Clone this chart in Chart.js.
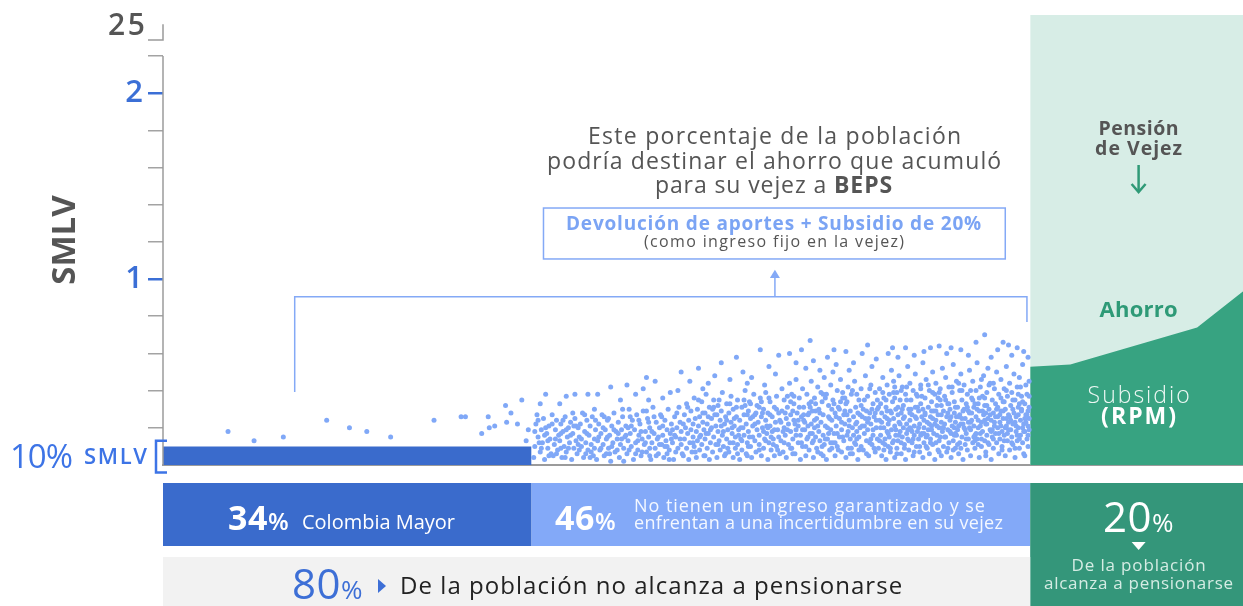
<!DOCTYPE html>
<html><head><meta charset="utf-8">
<script src="https://cdn.jsdelivr.net/npm/chart.js@4"></script>
<style>html,body{margin:0;padding:0;background:#fff;overflow:hidden;width:1243px;height:606px}#wrap{width:1247px;height:606px}canvas{display:block}</style>
</head><body><div id="wrap"><canvas id="c" width="1247" height="606"></canvas></div>
<script>
// ---------- DATA ----------
const yTickValues = [0.2,0.4,0.6,0.8,1,1.2,1.4,1.6,1.8,2,2.2];
const yTickLabels = {1:'1', 2:'2'};
const yBreakLabel = '25';
const yMin = 0, yMax = 2.42;
const xMin = 0, xMax = 100;            // % of population

const shares = [34, 46, 20];           // Colombia Mayor, no garantizado, pensionados
const shareNoPension = 80;

const colMayorX = [0, 34];
const colMayorY = [0.1, 0.1];           // 10% SMLV
const ahorroX = [80, 100];
const ahorroY = [2.42, 2.42];
const subsidioX = [80, 83.7, 95.4, 100];
const subsidioY = [0.528, 0.541, 0.740, 0.95];

const dots0to34 = [[6.0,.18],[8.4,.13],[11.1,.15],[15.1,.24],[17.2,.20],[18.8,.18],[21.0,.15],[25.0,.24],[27.5,.26],[27.9,.26],[29.4,.17],[30.0,.26],[30.1,.20],[30.6,.21],[31.6,.32],[31.7,.23],[32.1,.28],[32.7,.22],[33.1,.35],[33.5,.13],[33.7,.19]];

const dots34to48 = [[34.2,.04],[34.3,.10],[34.4,.22],[34.5,.27],[34.6,.15],[34.8,.07],[34.9,.19],[35.0,.12],[35.1,.25],[35.2,.03],[35.4,.17],[35.5,.09],[35.6,.21],[35.7,.14],[35.9,.27],[36.0,.05],[36.1,.11],[36.2,.19],[36.3,.24],[36.4,.08],[36.5,.16],[36.6,.13],[36.7,.22],[36.8,.04],[36.9,.18],[37.0,.10],[37.1,.26],[37.2,.07],[37.3,.15],[37.4,.20],[37.5,.12],[37.6,.23],[37.7,.03],[37.8,.17],[37.9,.09],[38.0,.25],[38.1,.13],[38.2,.06],[38.3,.20],[38.4,.15],[38.5,.22],[38.6,.10],[38.7,.28],[38.8,.04],[38.9,.18],[39.0,.12],[39.1,.24],[39.2,.08],[39.3,.16],[39.4,.21],[39.5,.11],[39.6,.26],[39.7,.05],[39.8,.14],[39.9,.19],
[34.3,.18],[34.7,.12],[35.3,.20],[35.8,.06],[36.2,.14],[36.7,.09],[37.2,.19],[37.6,.16],[38.1,.21],[38.6,.14],[39.1,.17],[39.5,.07],[36.9,.24],[35.5,.13],[38.4,.08],[37.9,.21],[39.8,.09],
[34.8,.33],[35.3,.38],[36.6,.33],[37.2,.37],[38.0,.38],[39.2,.38],[39.8,.30],
[40.0,.03],[40.1,.13],[40.2,.22],[40.3,.08],[40.4,.17],[40.5,.27],[40.6,.11],[40.7,.05],[40.8,.19],[40.9,.14],[41.0,.24],[41.1,.09],[41.2,.16],[41.3,.02],[41.4,.21],[41.5,.12],[41.6,.28],[41.7,.07],[41.8,.18],[41.9,.14],[42.0,.23],[42.1,.04],[42.2,.11],[42.3,.19],[42.4,.26],[42.5,.09],[42.6,.15],[42.7,.21],[42.8,.06],[42.9,.13],[43.0,.30],[43.1,.17],[43.2,.10],[43.3,.24],[43.4,.03],[43.5,.19],[43.6,.12],[43.7,.27],[43.8,.08],[43.9,.16],[44.0,.22],[44.1,.05],[44.2,.14],[44.3,.29],[44.4,.11],[44.5,.18],[44.6,.07],[44.7,.25],[44.8,.15],[44.9,.20],[45.0,.03],[45.1,.12],[45.2,.31],[45.3,.17],[45.4,.09],[45.5,.23],[45.6,.14],[45.7,.06],[45.8,.20],[45.9,.27],[46.0,.11],[46.1,.16],[46.2,.04],[46.3,.24],[46.4,.13],[46.5,.19],[46.6,.30],[46.7,.08],[46.8,.17],[46.9,.22],[47.0,.12],[47.1,.03],[47.2,.26],[47.3,.15],[47.4,.20],[47.5,.09],[47.6,.31],[47.7,.14],[47.8,.18],[47.9,.06],
[40.2,.15],[40.6,.20],[41.1,.25],[41.4,.10],[41.9,.08],[42.3,.14],[42.7,.16],[43.2,.21],[43.6,.06],[44.1,.18],[44.5,.12],[44.9,.09],[45.3,.26],[45.7,.15],[46.1,.21],[46.5,.10],[46.9,.14],[47.3,.07],[47.7,.23],[40.9,.06],[42.0,.17],[43.9,.24],[45.5,.05],[47.0,.19],
[40.1,.38],[41.3,.42],[42.2,.35],[42.8,.43],[43.6,.38],[44.3,.41],[44.6,.47],[45.4,.45],[46.1,.36],[46.8,.39],[47.5,.40],[47.8,.50],[44.8,.35]];

const dots48to57 = [[48.0,.05],[48.1,.14],[48.1,.27],[48.2,.20],[48.3,.09],[48.3,.33],[48.4,.17],[48.5,.24],[48.5,.03],[48.6,.12],[48.7,.29],[48.7,.19],[48.8,.07],[48.9,.22],[48.9,.15],[49.0,.36],[49.0,.10],[49.1,.25],[49.2,.04],[49.2,.18],
[49.3,.13],[49.3,.30],[49.4,.21],[49.5,.08],[49.5,.26],[49.6,.16],[49.7,.34],[49.7,.11],[49.8,.23],[49.9,.05],[49.9,.19],[50.0,.28],[50.0,.14],[50.1,.38],[50.2,.09],[50.2,.22],[50.3,.17],[50.4,.31],[50.4,.03],[50.5,.12],
[50.6,.25],[50.6,.20],[50.7,.07],[50.8,.15],[50.8,.35],[50.9,.27],[51.0,.11],[51.0,.21],[51.1,.04],[51.2,.18],[51.2,.32],[51.3,.13],[51.4,.24],[51.4,.08],[51.5,.29],[51.6,.16],[51.6,.39],[51.7,.10],[51.8,.22],[51.8,.05],
[51.9,.26],[52.0,.14],[52.0,.33],[52.1,.19],[52.2,.07],[52.2,.28],[52.3,.12],[52.4,.23],[52.4,.37],[52.5,.17],[52.6,.04],[52.6,.30],[52.7,.21],[52.8,.09],[52.8,.15],[52.9,.26],[53.0,.35],[53.0,.11],[53.1,.19],[53.2,.03],
[53.2,.24],[53.3,.14],[53.4,.31],[53.4,.08],[53.5,.20],[53.6,.27],[53.6,.16],[53.7,.40],[53.8,.06],[53.8,.22],[53.9,.12],[54.0,.29],[54.0,.18],[54.1,.34],[54.2,.10],[54.2,.25],[54.3,.04],[54.4,.15],[54.4,.21],[54.5,.38],
[54.6,.13],[54.6,.27],[54.7,.07],[54.8,.19],[54.8,.32],[54.9,.23],[55.0,.11],[55.0,.16],[55.1,.36],[55.2,.05],[55.2,.26],[55.3,.20],[55.4,.09],[55.4,.30],[55.5,.14],[55.6,.24],[55.6,.39],[55.7,.17],[55.8,.03],[55.8,.28],
[55.9,.12],[56.0,.21],[56.0,.34],[56.1,.08],[56.2,.18],[56.2,.26],[56.3,.14],[56.4,.31],[56.4,.05],[56.5,.23],[56.6,.10],[56.6,.37],[56.7,.19],[56.8,.28],[56.8,.15],[56.9,.06],[56.9,.24],
[48.6,.45],[49.4,.52],[50.3,.44],[50.9,.48],[51.5,.55],[52.3,.46],[52.9,.58],[53.5,.50],[54.3,.47],[55.1,.62],[55.9,.53],[56.5,.49],[56.8,.59],[49.8,.41],[53.9,.44],[55.5,.43]];

const dots57to66 = [[57.0,.13],[57.1,.29],[57.1,.41],[57.2,.07],[57.3,.20],[57.3,.35],[57.4,.16],[57.5,.25],[57.5,.04],[57.6,.31],[57.7,.11],[57.7,.22],[57.8,.44],[57.9,.18],[57.9,.27],[58.0,.09],[58.0,.38],[58.1,.14],[58.2,.24],[58.2,.33],[58.3,.06],[58.4,.19],[58.4,.46],[58.5,.28],[58.6,.12],
[58.6,.21],[58.7,.36],[58.8,.03],[58.8,.16],[58.9,.26],[59.0,.41],[59.0,.10],[59.1,.31],[59.2,.19],[59.2,.23],[59.3,.05],[59.4,.14],[59.4,.38],[59.5,.27],[59.6,.08],[59.6,.33],[59.7,.17],[59.8,.22],[59.8,.45],[59.9,.12],[59.9,.29],[60.0,.04],[60.1,.20],[60.1,.36],[60.2,.15],
[60.3,.25],[60.3,.09],[60.4,.42],[60.5,.18],[60.5,.30],[60.6,.13],[60.7,.23],[60.7,.06],[60.8,.34],[60.9,.16],[60.9,.27],[61.0,.47],[61.0,.11],[61.1,.21],[61.2,.38],[61.2,.03],[61.3,.14],[61.4,.26],[61.4,.32],[61.5,.08],[61.6,.19],[61.6,.43],[61.7,.24],[61.8,.12],[61.8,.35],
[61.9,.17],[62.0,.05],[62.0,.28],[62.1,.21],[62.2,.40],[62.2,.10],[62.3,.31],[62.4,.15],[62.4,.25],[62.5,.46],[62.6,.07],[62.6,.19],[62.7,.36],[62.8,.13],[62.8,.27],[62.9,.22],[63.0,.04],[63.0,.33],[63.1,.16],[63.2,.42],[63.2,.09],[63.3,.24],[63.4,.29],[63.4,.14],[63.5,.38],
[63.6,.20],[63.6,.06],[63.7,.26],[63.8,.45],[63.8,.12],[63.9,.31],[64.0,.18],[64.0,.23],[64.1,.03],[64.2,.35],[64.2,.15],[64.3,.27],[64.4,.10],[64.4,.41],[64.5,.21],[64.6,.30],[64.6,.08],[64.7,.17],[64.8,.48],[64.8,.25],[64.9,.13],[65.0,.37],[65.0,.19],[65.1,.05],[65.2,.28],
[65.3,.22],[65.3,.43],[65.4,.11],[65.5,.33],[65.5,.16],[65.6,.26],[65.7,.07],[65.7,.39],[65.8,.20],[65.9,.14],[65.9,.30],
[57.8,.60],[58.9,.62],[59.3,.52],[59.7,.67],[60.0,.56],[60.6,.51],[61.3,.58],[61.9,.62],[62.1,.54],[63.0,.61],[63.7,.55],[64.5,.60],[65.0,.645],[65.4,.53],[58.4,.55],[61.8,.50],[63.3,.51],[65.8,.57]];

const dots66to80 = [[66.0,.09],[66.1,.24],[66.1,.41],[66.2,.16],[66.2,.33],[66.3,.05],[66.3,.28],[66.4,.12],[66.4,.47],[66.5,.20],[66.5,.36],[66.6,.14],
[66.6,.26],[66.7,.03],[66.7,.31],[66.8,.18],[66.8,.43],[66.9,.10],[66.9,.22],[67.0,.38],[67.0,.15],[67.1,.29],[67.1,.07],[67.2,.51],
[67.2,.19],[67.3,.34],[67.3,.12],[67.4,.25],[67.4,.45],[67.5,.04],[67.5,.21],[67.6,.30],[67.6,.16],[67.7,.39],[67.7,.09],[67.8,.27],
[67.8,.13],[67.9,.23],[67.9,.48],[68.0,.18],[68.0,.35],[68.1,.06],[68.1,.28],[68.2,.42],[68.2,.15],[68.3,.20],[68.3,.32],[68.4,.11],
[68.4,.26],[68.5,.03],[68.5,.38],[68.6,.17],[68.6,.22],[68.7,.53],[68.7,.14],[68.8,.30],[68.8,.08],[68.9,.24],[68.9,.44],[69.0,.19],
[69.0,.35],[69.1,.12],[69.1,.27],[69.2,.05],[69.2,.40],[69.3,.21],[69.3,.16],[69.4,.31],[69.4,.49],[69.5,.10],[69.5,.25],[69.6,.18],
[69.6,.37],[69.7,.14],[69.7,.29],[69.8,.07],[69.8,.22],[69.9,.43],[69.9,.33],[70.0,.17],[70.0,.26],[70.1,.04],[70.1,.55],[70.2,.20],
[70.2,.12],[70.3,.36],[70.3,.28],[70.4,.15],[70.4,.46],[70.5,.09],[70.5,.23],[70.6,.31],[70.6,.19],[70.7,.40],[70.7,.06],[70.8,.26],
[70.8,.14],[70.9,.34],[70.9,.21],[71.0,.50],[71.0,.11],[71.1,.29],[71.1,.17],[71.2,.38],[71.2,.03],[71.3,.24],[71.3,.44],[71.4,.16],
[71.4,.32],[71.5,.08],[71.5,.27],[71.6,.20],[71.6,.13],[71.7,.41],[71.7,.35],[71.8,.23],[71.8,.05],[71.9,.18],[71.9,.52],[72.0,.29],
[72.0,.10],[72.1,.37],[72.1,.22],[72.2,.15],[72.2,.47],[72.3,.26],[72.3,.07],[72.4,.33],[72.4,.19],[72.5,.12],[72.5,.42],[72.6,.24],
[72.6,.30],[72.7,.04],[72.7,.17],[72.8,.39],[72.8,.21],[72.9,.54],[72.9,.13],[73.0,.28],[73.0,.34],[73.1,.09],[73.1,.23],[73.2,.45],
[73.2,.16],[73.3,.31],[73.3,.19],[73.4,.06],[73.4,.26],[73.5,.40],[73.5,.12],[73.6,.22],[73.6,.49],[73.7,.15],[73.7,.35],[73.8,.29],
[73.8,.03],[73.9,.20],[73.9,.43],[74.0,.11],[74.0,.25],[74.1,.33],[74.1,.17],[74.2,.08],[74.2,.38],[74.3,.23],[74.3,.14],[74.4,.51],
[74.4,.28],[74.5,.19],[74.5,.05],[74.6,.36],[74.6,.24],[74.7,.12],[74.7,.45],[74.8,.21],[74.8,.31],[74.9,.16],[74.9,.09],[75.0,.40],
[75.0,.26],[75.1,.14],[75.1,.55],[75.2,.20],[75.2,.33],[75.3,.04],[75.3,.29],[75.4,.17],[75.4,.42],[75.5,.23],[75.5,.10],[75.6,.37],
[75.6,.18],[75.7,.27],[75.7,.48],[75.8,.13],[75.8,.32],[75.9,.07],[75.9,.22],[76.0,.39],[76.0,.16],[76.1,.25],[76.1,.52],[76.2,.11],
[76.2,.30],[76.3,.19],[76.3,.44],[76.4,.03],[76.4,.24],[76.5,.35],[76.5,.15],[76.6,.28],[76.6,.09],[76.7,.41],[76.7,.21],[76.8,.17],
[76.8,.33],[76.9,.50],[76.9,.12],[77.0,.26],[77.0,.20],[77.1,.06],[77.1,.38],[77.2,.23],[77.2,.14],[77.3,.46],[77.3,.29],[77.4,.18],
[77.4,.10],[77.5,.34],[77.5,.25],[77.6,.41],[77.6,.16],[77.7,.05],[77.7,.30],[77.8,.21],[77.8,.53],[77.9,.13],[77.9,.37],[78.0,.27],
[78.0,.19],[78.1,.08],[78.1,.44],[78.2,.24],[78.2,.32],[78.3,.15],[78.3,.39],[78.4,.11],[78.4,.22],[78.5,.49],[78.5,.28],[78.6,.04],
[78.6,.35],[78.7,.18],[78.7,.26],[78.8,.42],[78.8,.13],[78.9,.31],[78.9,.20],[79.0,.09],[79.0,.47],[79.1,.24],[79.1,.16],[79.2,.37],
[79.2,.29],[79.3,.12],[79.3,.54],[79.4,.22],[79.4,.06],[79.5,.33],[79.5,.18],[79.6,.43],[79.6,.27],[79.7,.14],[79.7,.38],[79.8,.21],[79.8,.10],[79.9,.31],[79.9,.25],[79.9,.45],
[66.9,.60],[67.3,.63],[67.8,.58],[68.5,.63],[69.3,.59],[70.2,.61],[70.8,.63],[71.6,.64],[72.3,.60],[72.7,.63],[73.6,.62],[74.3,.59],[75.0,.66],[75.8,.70],[76.4,.58],[77.0,.62],[77.5,.66],[78.0,.645],[78.3,.59],[78.8,.63],[79.4,.61],[79.8,.58]];

const dotsCore = [[50.3,.26],[51.7,.18],[52.9,.31],[53.4,.13],[54.6,.22],[55.3,.28],[56.1,.15],[57.6,.19],[58.1,.29],[58.9,.12],[59.5,.21],[60.2,.33],[60.8,.10],[61.5,.25],[62.2,.17],[62.9,.36],[63.5,.09],[64.1,.28],[64.7,.21],[65.3,.14],[65.9,.35],[66.5,.08],[67.0,.24],[67.6,.19],[68.2,.30],[68.8,.13],[69.4,.26],[70.0,.37],[70.5,.16],[71.2,.22],[71.8,.32],[72.4,.09],[73.0,.20],[73.5,.27],[74.1,.14],[74.7,.35],[75.2,.11],[75.8,.24],[76.4,.18],[77.0,.31],[77.6,.13],[78.1,.26],[78.7,.21],[79.3,.34],[79.8,.16],
[51.2,.11],[52.5,.20],[53.9,.27],[55.0,.08],[56.6,.30],[57.3,.12],[58.6,.24],[59.9,.17],[60.6,.28],[61.1,.14],[61.9,.33],[62.6,.23],[63.2,.18],[63.9,.11],[64.4,.32],[65.1,.25],[65.6,.09],[66.2,.20],[66.8,.29],[67.4,.13],[68.0,.22],[68.6,.35],[69.1,.18],[69.8,.10],[70.3,.27],[70.9,.19],[71.5,.36],[72.1,.15],[72.7,.26],[73.3,.11],[73.9,.30],[74.4,.20],[75.0,.17],[75.6,.29],[76.1,.12],[76.7,.23],[77.3,.36],[77.9,.17],[78.4,.30],[79.0,.14],[79.6,.23],
[50.8,.31],[52.1,.09],[53.1,.16],[54.2,.33],[55.7,.21],[56.3,.11],[57.9,.34],[58.4,.16],[59.1,.27],[59.7,.31],[60.4,.07],[61.3,.20],[62.0,.12],[62.4,.30],[63.1,.27],[63.7,.16],[64.3,.20],[64.9,.29],[65.5,.19],[66.1,.13],[66.7,.35],[67.2,.28],[67.9,.16],[68.4,.09],[68.9,.20],[69.6,.31],[70.2,.24],[70.8,.12],[71.3,.29],[71.9,.20],[72.5,.33],[73.1,.17],[73.7,.25],[74.2,.31],[74.9,.13],[75.4,.21],[76.0,.32],[76.6,.14],[77.2,.27],[77.7,.20],[78.3,.12],[78.9,.27],[79.4,.18],[79.9,.37],
[64.0,.38],[66.4,.39],[68.1,.40],[69.9,.41],[71.0,.39],[72.8,.42],[74.5,.40],[76.2,.43],[77.8,.40],[79.1,.42],[75.5,.46],[73.4,.44],[70.6,.43],[67.5,.42],[65.2,.41],[62.7,.39],[60.9,.38],[58.2,.37],[55.9,.36],[53.6,.35],
[59.0,.19],[60.0,.13],[61.7,.09],[63.3,.21],[65.8,.24],[67.7,.06],[69.2,.14],[71.6,.07],[73.8,.22],[75.9,.05],[77.4,.08],[78.6,.09],[79.5,.05],[57.0,.23],[55.4,.18],[54.0,.10],[52.7,.25],[51.5,.21],[50.1,.17],[49.5,.15]];

const dotsFill = [[34.6,.24],[36.3,.06],[35.2,.16],[37.8,.28],[39.4,.04],[41.6,.19],[40.4,.09],[43.1,.26],[42.5,.02],[44.8,.23],[46.3,.10],[45.1,.18],[47.4,.28],[46.7,.03],[35.9,.22],[38.3,.11],[37.1,.04],[39.9,.24],[41.0,.15],[42.9,.20],[44.2,.07],[43.8,.13],[45.8,.11],[47.2,.16],[36.7,.17],[34.9,.09],[38.9,.27],[40.7,.26],[42.4,.30],[44.6,.29],[46.0,.26],[47.8,.11],[35.6,.05],[37.4,.09],[39.0,.06],[41.2,.06],[43.0,.08],[44.9,.05],[46.5,.06],[48.0,.22],
[48.4,.31],[49.1,.07],[50.5,.19],[49.8,.28],[51.3,.35],[52.6,.12],[51.1,.27],[53.3,.20],[54.7,.28],[53.9,.05],[55.2,.34],[56.7,.08],[55.6,.13],[57.4,.28],[58.7,.31],[57.2,.18],[59.3,.10],[58.1,.06],[59.8,.34],[48.9,.12],[50.0,.05],[52.3,.33],[54.1,.15],[56.0,.27],[57.9,.09],[59.5,.15],[49.4,.35],[51.9,.06],[53.7,.32],[55.8,.20],[57.6,.37],[59.1,.24],[50.7,.30],[52.0,.24],[54.4,.26],[56.4,.19],[58.3,.22],[59.6,.28],[53.0,.06],[55.0,.31],
[60.2,.29],[61.4,.17],[60.7,.39],[62.3,.08],[63.1,.34],[62.7,.15],[64.5,.26],[63.6,.40],[65.2,.12],[66.0,.31],[64.9,.06],[66.9,.17],[67.5,.36],[68.3,.25],[67.1,.09],[69.0,.30],[68.6,.42],[69.7,.20],[60.4,.21],[61.7,.30],[62.1,.26],[63.9,.22],[64.2,.08],[65.7,.28],[66.3,.23],[67.8,.31],[68.7,.19],[69.3,.07],[60.9,.05],[61.1,.36],[62.9,.29],[63.4,.06],[64.7,.35],[65.0,.23],[66.6,.11],[67.4,.39],[68.1,.12],[69.5,.38],[60.1,.24],[61.6,.12],[62.5,.34],[64.0,.14],[65.4,.30],[66.8,.25],[68.9,.28],[69.9,.16],
[70.1,.30],[71.3,.12],[70.7,.22],[72.2,.35],[71.8,.27],[73.4,.21],[72.9,.08],[74.3,.29],[73.7,.40],[75.2,.24],[74.8,.15],[76.3,.27],[75.8,.36],[77.1,.17],[76.6,.44],[78.2,.19],[77.5,.29],[79.0,.33],[78.6,.23],[79.7,.27],[70.4,.10],[71.0,.25],[71.6,.39],[72.6,.18],[73.1,.31],[74.0,.19],[74.6,.28],[75.5,.14],[76.0,.22],[76.9,.30],[77.8,.25],[78.4,.35],[79.3,.20],[79.8,.29],[70.9,.29],[72.0,.20],[73.6,.09],[74.9,.33],[75.9,.28],[77.3,.21],[78.8,.16],[79.5,.25],[70.2,.17],[71.4,.21],[72.4,.28],[73.2,.26],[74.5,.23],[75.1,.30],[76.5,.19],[77.6,.34],[78.0,.23],[79.2,.30],[71.7,.15],[73.0,.16],[75.3,.36],[76.8,.26],[78.9,.38],[79.9,.19]];

// ---------- CHART ----------
const FF = '"Open Sans", "DejaVu Sans", sans-serif';
const F = (w, s) => `${w} ${s}px ${FF}`;
const BLUE = '#3a6bcc', LBLUE = '#80a8f7', GREY = '#555555';

const pts = (xs, ys) => xs.map((x, i) => ({x, y: ys[i]}));
const dots = [].concat(dots0to34, dots34to48, dots48to57, dots57to66, dots66to80, dotsCore, dotsFill).map(([x, y]) => ({x, y}));

function fit(ctx, s, x, y, font, color, align, target) {
  ctx.save();
  ctx.font = font; ctx.fillStyle = color; ctx.textBaseline = 'alphabetic'; ctx.textAlign = 'left';
  ctx.letterSpacing = '0px';
  const w = ctx.measureText(s).width;
  const tw = target || w;
  const sp = target ? (target - w) / Math.max(1, s.length - 1) : 0;
  ctx.letterSpacing = sp.toFixed(2) + 'px';
  const x0 = align === 'center' ? x - tw / 2 : align === 'right' ? x - tw : x;
  ctx.fillText(s, x0, y);
  ctx.restore();
}
function runs(ctx, parts, x, y, align, sp) {
  ctx.save();
  ctx.letterSpacing = (sp || 0) + 'px';
  let w = 0;
  parts.forEach(p => { ctx.font = p[1]; p.w = ctx.measureText(p[0]).width; w += p.w; });
  let cx = align === 'center' ? x - w / 2 : x;
  ctx.textAlign = 'left'; ctx.textBaseline = 'alphabetic';
  parts.forEach(p => { ctx.font = p[1]; ctx.fillStyle = p[2]; ctx.fillText(p[0], cx, y); cx += p.w; });
  ctx.restore();
}

const overlay = {
  id: 'overlay',
  afterDraw(chart) {
    const ctx = chart.ctx, xs = chart.scales.x, ys = chart.scales.y;
    const X = v => xs.getPixelForValue(v), Y = v => ys.getPixelForValue(v);
    const poly = (p, color, w) => { ctx.beginPath(); ctx.strokeStyle = color; ctx.lineWidth = w;
      p.forEach((q, i) => i ? ctx.lineTo(q[0], q[1]) : ctx.moveTo(q[0], q[1])); ctx.stroke(); };
    ctx.save();
    const ax = xs.left;
    poly([[ax, Y(2.2)], [ax, Y(0)]], '#9b9b9b', 1.5);
    poly([[ax, Y(2.37)], [ax, Y(2.285)], [ax - 15, Y(2.285)]], '#9b9b9b', 1.5);
    fit(ctx, yBreakLabel, ax - 18, Y(2.37) + 11, F(600, 30), GREY, 'right', 37);
    poly([[ax + 4, Y(0.13)], [ax - 7, Y(0.13)], [ax - 7, Y(-0.04)], [ax + 4, Y(-0.04)]], '#3d74e6', 2.5);
    fit(ctx, '10%', 10, Y(0.05) + 12, F(500, 33), '#3d74e6', 'left', 63);
    fit(ctx, 'SMLV', 84, Y(0.05) + 8, F(600, 22), '#3d74e6', 'left', 63);
    const lb = '#84a9f6';
    poly([[X(12.15), Y(0.392)], [X(12.15), Y(0.905)], [X(79.7), Y(0.905)], [X(79.7), Y(0.769)]], lb, 1.5);
    poly([[X(56.45), Y(0.905)], [X(56.45), Y(1.03)]], lb, 1.5);
    ctx.beginPath(); ctx.fillStyle = lb;
    ctx.moveTo(X(56.45), Y(1.05)); ctx.lineTo(X(56.45) - 5, Y(1.005)); ctx.lineTo(X(56.45) + 5, Y(1.005)); ctx.closePath(); ctx.fill();
    ctx.strokeStyle = lb; ctx.lineWidth = 1.5;
    ctx.strokeRect(X(35.1), Y(1.382), X(77.7) - X(35.1), Y(1.108) - Y(1.382));
    fit(ctx, 'Devolución de aportes + Subsidio de 20%', 773.5, 229.5, F(700, 19), '#7ba4f4', 'center', 415);
    fit(ctx, '(como ingreso fijo en la vejez)', 774, 247, F(400, 16), GREY, 'center', 260);
    fit(ctx, 'Este porcentaje de la población', 774.5, 144, F(400, 23), GREY, 'center', 373);
    fit(ctx, 'podría destinar el ahorro que acumuló', 774, 169, F(400, 23), GREY, 'center', 454);
    runs(ctx, [['para su vejez a ', F(400, 23), GREY], ['BEPS', F(700, 23), GREY]], 774, 193, 'center', 0.9);
    const cx = X(90);
    fit(ctx, 'Pensión', cx, 135, F(700, 19.5), GREY, 'center', 80);
    fit(ctx, 'de Vejez', cx, 155, F(700, 19.5), GREY, 'center', 87);
    poly([[cx, 165], [cx, 192]], '#2f9a77', 2.5);
    poly([[cx - 7, 184], [cx, 192], [cx + 7, 184]], '#2f9a77', 2.5);
    fit(ctx, 'Ahorro', cx, 317, F(700, 22), '#2e9a77', 'center', 78);
    fit(ctx, 'Subsidio', cx, 403, F(300, 23), '#eef8f4', 'center', 102);
    fit(ctx, '(RPM)', cx, 424, F(700, 23), '#ffffff', 'center', 75);
    const c1 = shares[0], c2 = shares[0] + shares[1], c3 = c2 + shares[2];
    ctx.fillStyle = BLUE; ctx.fillRect(X(0), 483, X(c1) - X(0), 63);
    ctx.fillStyle = '#83a9f8'; ctx.fillRect(X(c1), 483, X(c2) - X(c1), 63);
    ctx.fillStyle = '#34967a'; ctx.fillRect(X(c2), 483, X(c3) - X(c2), 123);
    ctx.fillStyle = '#f2f2f2'; ctx.fillRect(X(0), 557, X(shareNoPension) - X(0), 49);
    runs(ctx, [[String(shares[0]), F(700, 34), '#fff'], ['%', F(600, 24), '#fff']], 228, 530, 'left', 0.5);
    fit(ctx, 'Colombia Mayor', 302, 529, F(400, 20), '#fff', 'left', 153);
    runs(ctx, [[String(shares[1]), F(700, 34), '#fff'], ['%', F(600, 24), '#fff']], 555, 530, 'left', 0.5);
    fit(ctx, 'No tienen un ingreso garantizado y se', 634, 512, F(400, 18), '#f4f8ff', 'left', 351);
    fit(ctx, 'enfrentan a una incertidumbre en su vejez', 634, 529, F(400, 18), '#f4f8ff', 'left', 369);
    runs(ctx, [[String(shares[2]), F(500, 42), '#fff'], ['%', F(500, 26), '#fff']], cx, 532, 'center', 0.5);
    ctx.beginPath(); ctx.fillStyle = '#fff';
    ctx.moveTo(cx - 7, 542); ctx.lineTo(cx + 7, 542); ctx.lineTo(cx, 550); ctx.closePath(); ctx.fill();
    fit(ctx, 'De la población', cx, 571, F(400, 17), '#d5ece4', 'center', 134);
    fit(ctx, 'alcanza a pensionarse', cx, 589, F(400, 17), '#d5ece4', 'center', 189);
    runs(ctx, [[String(shareNoPension), F(500, 42), '#3d6fd6'], ['%', F(500, 26), '#3d6fd6']], 292, 599, 'left', 0.5);
    ctx.beginPath(); ctx.fillStyle = '#3d6fd6';
    ctx.moveTo(378, 579); ctx.lineTo(378, 593); ctx.lineTo(386, 586); ctx.closePath(); ctx.fill();
    fit(ctx, 'De la población no alcanza a pensionarse', 400, 594, F(400, 24), '#222', 'left', 502);
    ctx.restore();
  }
};

const chart = new Chart(document.getElementById('c'), {
  type: 'scatter',
  data: {
    datasets: [
      {type: 'scatter', label: 'Población', data: dots, pointRadius: 2.5, pointBackgroundColor: LBLUE, backgroundColor: LBLUE, borderWidth: 0, order: 0},
      {type: 'line', label: 'Colombia Mayor', data: pts(colMayorX, colMayorY), fill: 'origin', backgroundColor: BLUE, borderWidth: 0, pointRadius: 0, order: 1},
      {type: 'line', label: 'Subsidio', data: pts(subsidioX, subsidioY), fill: 'origin', backgroundColor: '#37a381', borderWidth: 0, pointRadius: 0, tension: 0, order: 2},
      {type: 'line', label: 'Ahorro', data: pts(ahorroX, ahorroY), fill: 'origin', backgroundColor: '#d7ede6', borderWidth: 0, pointRadius: 0, order: 3}
    ]
  },
  options: {
    responsive: false, animation: false, events: [],
    layout: {autoPadding: false, padding: {top: 15, bottom: 141, left: 0, right: 0}},
    plugins: {legend: {display: false}, tooltip: {enabled: false}},
    scales: {
      x: {
        type: 'linear', min: xMin, max: xMax, display: true,
        ticks: {display: false}, grid: {display: false, drawTicks: false},
        border: {display: true, color: '#9b9b9b', width: 2},
        afterFit: s => { s.height = 0; s.paddingLeft = 0; s.paddingRight = 0; s.paddingTop = 0; s.paddingBottom = 0; }
      },
      y: {
        type: 'linear', min: yMin, max: yMax,
        afterBuildTicks: s => { s.ticks = yTickValues.map(v => ({value: v})); },
        afterFit: s => { s.width = 163; s.paddingTop = 0; s.paddingBottom = 0; },
        border: {display: false},
        grid: {
          drawOnChartArea: false, drawTicks: true, tickLength: 15,
          color: c => (c.tick && yTickLabels[c.tick.value]) ? '#3b6fd6' : '#a3a3a3',
          lineWidth: c => (c.tick && yTickLabels[c.tick.value]) ? 2.5 : 1.5
        },
        ticks: {
          autoSkip: false, padding: 5,
          callback: v => yTickLabels[v] || '',
          color: '#3b6fd6', font: {family: FF, size: 31, weight: '600'}
        },
        title: {display: true, text: 'SMLV', color: GREY, font: {family: FF, size: 33, weight: '700'}, padding: {top: 46, bottom: 0}}
      }
    }
  },
  plugins: [overlay]
});
</script></body></html>
